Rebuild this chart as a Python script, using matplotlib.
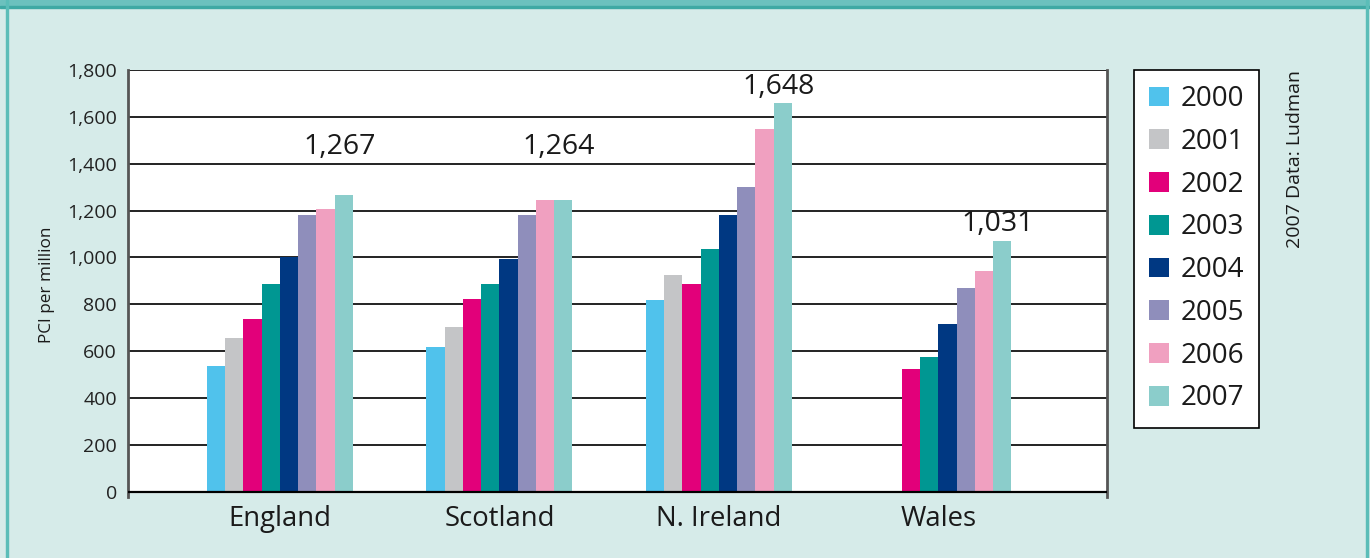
import numpy as np
import matplotlib.pyplot as plt
from matplotlib.patches import Rectangle
from matplotlib.ticker import FuncFormatter

plt.rcParams['font.family'] = ['Open Sans', 'DejaVu Sans']

# data (PCI per million population)
countries = ['England', 'Scotland', 'N. Ireland', 'Wales']
years = ['2000', '2001', '2002', '2003', '2004', '2005', '2006', '2007']
england = [538, 657, 738, 887, 1000, 1182, 1207, 1267]
scotland = [618, 703, 823, 887, 994, 1182, 1246, 1246]
n_ireland = [819, 926, 887, 1037, 1182, 1301, 1549, 1660]
wales = [np.nan, np.nan, 525, 576, 717, 870, 943, 1071]
labels_2007 = ['1,267', '1,264', '1,648', '1,031']
label_heights = [1472, 1472, 1728, 1143]

colors = ['#50C2EC', '#C4C5C7', '#E2007A', '#009792',
          '#003882', '#8F8EBB', '#F0A0C0', '#8BCDCB']
bg = '#D6EBE9'

values = np.array([england, scotland, n_ireland, wales])  # country x year

fig = plt.figure(figsize=(13.70, 5.58), dpi=100, facecolor=bg)
ax = fig.add_axes([0.0934, 0.1093, 0.7146, 0.7653])
ax.set_facecolor('none')

x = np.arange(len(countries))
w = 0.0831
for i, yr in enumerate(years):
    ax.bar(x + (i - 3.5) * w, values[:, i], width=w, color=colors[i],
           label=yr, zorder=3, linewidth=0)

# white plot area between 0 and 1800, grid lines
ax.axhspan(0, 1800, color='white', zorder=0)
for v in range(0, 1801, 200):
    ax.axhline(v, color='#222222', lw=1.4, zorder=1)
ax.axhline(0, color='black', lw=1.6, zorder=4)

for xi, txt, hy in zip(x, labels_2007, label_heights):
    ax.text(xi + 3.25 * w, hy, txt, ha='center', va='center',
            fontsize=20.5, color='#1a1a1a', zorder=5)

ax.set_xlim(-0.6925, 3.768)
ax.set_ylim(-22, 1800)
ax.set_yticks(range(0, 1801, 200))
ax.yaxis.set_major_formatter(FuncFormatter(lambda v, p: f'{int(v):,}'))
ax.set_xticks(x)
ax.set_xticklabels(countries, fontsize=19.8, color='#1a1a1a')
ax.tick_params(axis='y', length=0, pad=8, labelsize=14, labelcolor='#222222')
ax.tick_params(axis='x', length=0, pad=6)
ax.spines['bottom'].set_visible(False)
ax.spines['top'].set_visible(False)
for s in ['left', 'right']:
    ax.spines[s].set_color('#555555')
    ax.spines[s].set_linewidth(2)

fig.text(47 / 1370, 0.49, 'PCI per million', rotation=90, ha='center',
         va='center', fontsize=12.3, color='#1a1a1a')
fig.text(1295 / 1370, 0.8746, '2007 Data: Ludman', rotation=90, ha='center',
         va='top', fontsize=14, color='#1a1a1a')

leg = fig.legend(loc='upper left', bbox_to_anchor=(0.8277, 0.8746),
                 fontsize=20, frameon=True, fancybox=False, edgecolor='black',
                 facecolor='white', framealpha=1,
                 handlelength=0.72, handleheight=0.72, handletextpad=0.4,
                 labelspacing=0.53, borderpad=0.55, borderaxespad=0)
leg.get_frame().set_linewidth(1.2)
for t in leg.get_texts():
    t.set_color('#1a1a1a')

# panel decoration: top band and side borders
fig.patches.append(Rectangle((0, 1 - 6 / 558), 1, 6 / 558, transform=fig.transFigure,
                             color='#6CC1BE', zorder=0))
fig.patches.append(Rectangle((0, 1 - 7.5 / 558), 1, 1.5 / 558, transform=fig.transFigure,
                             color='#3FA9A4', zorder=0))
fig.patches.append(Rectangle((6 / 1370, 0), 2 / 1370, 1, transform=fig.transFigure,
                             color='#5BBDB8', zorder=0))
fig.patches.append(Rectangle((1366 / 1370, 0), 2 / 1370, 1, transform=fig.transFigure,
                             color='#5BBDB8', zorder=0))

fig.savefig('out.png', dpi=100, facecolor=bg)
